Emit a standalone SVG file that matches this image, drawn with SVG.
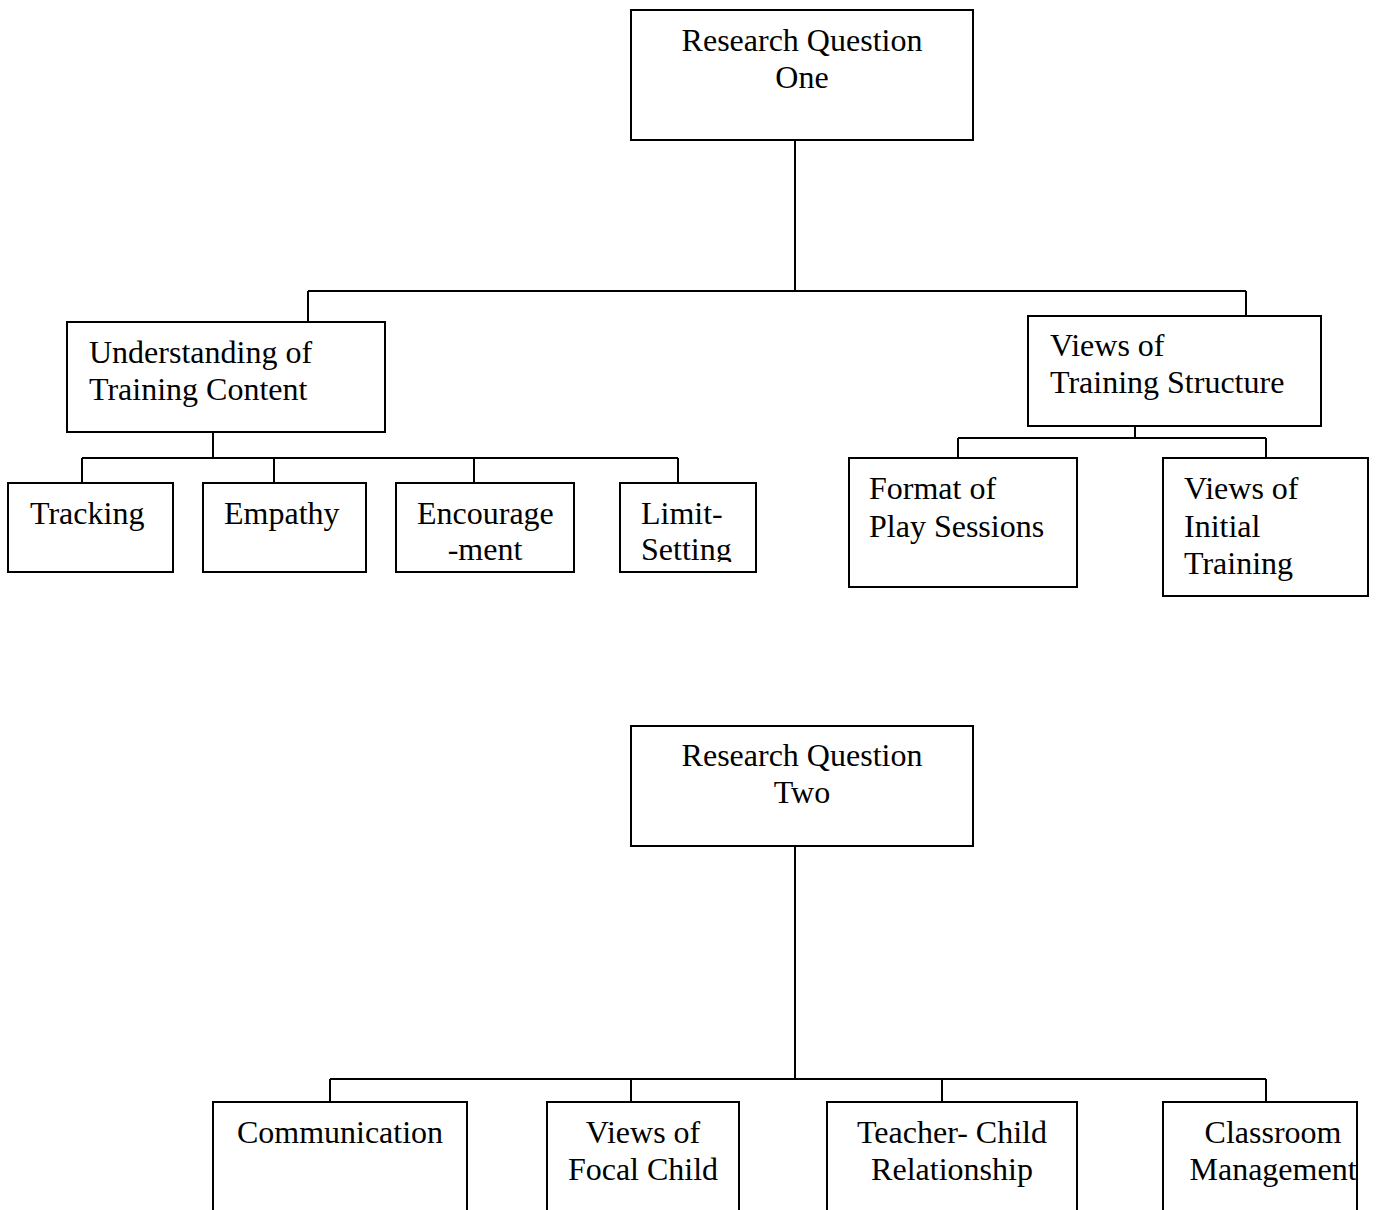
<svg xmlns="http://www.w3.org/2000/svg" width="1386" height="1210" viewBox="0 0 1386 1210">
<style>
.box{fill:#fff;stroke:#000;stroke-width:2}
.ln{fill:none;stroke:#000;stroke-width:2}
text{font-family:"Liberation Serif","Times New Roman",serif;font-size:32px;fill:#000}
.c{text-anchor:middle}
</style>
<defs>
<clipPath id="clipLimit"><rect x="620" y="483" width="137" height="79"/></clipPath>
</defs>
<rect width="1386" height="1210" fill="#fff"/>
<g id="connectors">
<path class="ln" d="M795 140V291M308 291H1246M308 291V322M1246 291V316"/>
<path class="ln" d="M213 432V458M82 458H678M82 458V483M274 458V483M474 458V483M678 458V483"/>
<path class="ln" d="M1135 426V438M958 438H1266M958 438V458M1266 438V458"/>
<path class="ln" d="M795 846V1079M330 1079H1266M330 1079V1102M631 1079V1102M942 1079V1102M1266 1079V1102"/>
</g>
<g id="rq1"><rect class="box" x="631" y="10" width="342" height="130"/><text class="c" x="802" y="51">Research Question</text><text class="c" x="802" y="88">One</text></g>
<g id="understanding"><rect class="box" x="67" y="322" width="318" height="110"/><text x="89" y="363">Understanding of</text><text x="89" y="400">Training Content</text></g>
<g id="structure"><rect class="box" x="1028" y="316" width="293" height="110"/><text x="1050" y="356">Views of</text><text x="1050" y="393">Training Structure</text></g>
<g id="tracking"><rect class="box" x="8" y="483" width="165" height="89"/><text x="30" y="524">Tracking</text></g>
<g id="empathy"><rect class="box" x="203" y="483" width="163" height="89"/><text x="224" y="524">Empathy</text></g>
<g id="encouragement"><rect class="box" x="396" y="483" width="178" height="89"/><text x="417" y="524">Encourage</text><text class="c" x="485" y="560">-ment</text></g>
<g id="limit"><rect class="box" x="620" y="483" width="136" height="89"/><g clip-path="url(#clipLimit)"><text x="641" y="524">Limit-</text><text x="641" y="560">Setting</text></g></g>
<g id="format"><rect class="box" x="849" y="458" width="228" height="129"/><text x="869" y="499">Format of</text><text x="869" y="537">Play Sessions</text></g>
<g id="initial"><rect class="box" x="1163" y="458" width="205" height="138"/><text x="1184" y="499">Views of</text><text x="1184" y="537">Initial</text><text x="1184" y="574">Training</text></g>
<g id="rq2"><rect class="box" x="631" y="726" width="342" height="120"/><text class="c" x="802" y="766">Research Question</text><text class="c" x="802" y="803">Two</text></g>
<g id="communication"><path class="ln" d="M213 1215V1102H467V1215"/><text class="c" x="340" y="1143">Communication</text></g>
<g id="focal"><path class="ln" d="M547 1215V1102H739V1215"/><text class="c" x="643" y="1143">Views of</text><text class="c" x="643" y="1180">Focal Child</text></g>
<g id="teacher"><path class="ln" d="M827 1215V1102H1077V1215"/><text class="c" x="952" y="1143">Teacher- Child</text><text class="c" x="952" y="1180">Relationship</text></g>
<g id="classroom"><path class="ln" d="M1163 1215V1102H1357V1215"/><text class="c" x="1273" y="1143">Classroom</text><text class="c" x="1273" y="1180">Management</text></g>
</svg>
